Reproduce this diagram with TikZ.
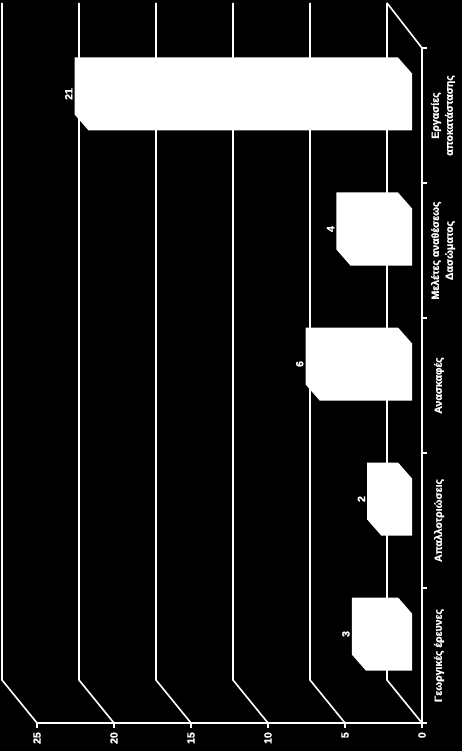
\documentclass[tikz,border=0pt]{standalone}
\usepackage{fontspec}
\setmainfont{Liberation Sans}
\newfontfamily\labfont{Liberation Sans Bold}[FakeBold=1.2]
\begin{document}
\begin{tikzpicture}[x=1pt,y=-1pt,
  grid/.style={white,line width=1.6pt},
  barshape/.style={fill=white},
  txt/.style={rotate=90,text=white,inner sep=0pt,font=\labfont\fontsize{10.5}{14}\selectfont},
  catlab/.style={txt,align=center}]
\fill[black] (0,0) rectangle (462,751);
\useasboundingbox (0,0) rectangle (462,751);
% back wall gridlines, side wall diagonals, value ticks and labels
\foreach \v in {0,5,...,25} {
  \pgfmathsetmacro\xb{387-\v*15.4}
  \coordinate (gb\v) at (\xb,3);
  \coordinate (gc\v) at (\xb,680);
  \coordinate (gf\v) at (\xb+35,723);
  \coordinate (gt\v) at (\xb+35,728);
  \draw[grid] (gb\v) -- (gc\v) -- (gf\v);
  \draw[grid] (gf\v) -- (gt\v);
  \node[txt,anchor=east] (vl\v) at (\xb+35,732) {\v};
}
% floor edge and axes
\coordinate (fe) at (422,48);
\coordinate (ax0) at (422,723);
\coordinate (ax25) at (37,723);
\draw[grid] (gb0) -- (fe) -- (ax0) -- (ax25);
\foreach \y in {48,183,...,723} {
  \coordinate (ct\y) at (422,\y);
  \coordinate (cu\y) at (427,\y);
  \draw[grid] (ct\y) -- (cu\y);
}
% bars
\foreach \yc/\v in {655.5/3, 520.5/2, 385.5/6, 250.5/4, 115.5/21} {
  \pgfmathsetmacro\xl{412-\v*15.4}
  \fill[barshape] (\xl-14,\yc-58) -- (398,\yc-58) -- (412,\yc-42) -- (412,\yc+15)
     -- (\xl,\yc+15) -- (\xl-14,\yc-1) -- cycle;
  \node[txt,anchor=south] (bl\v) at (\xl-16,\yc-21.5) {\v};
}
% category labels
\node[catlab] (c1) at (439,655.5) {Γεωργικές έρευνες};
\node[catlab] (c2) at (439,520.5) {Απαλλοτριώσεις};
\node[catlab] (c3) at (439,385.5) {Ανασκαφές};
\node[catlab] (c4) at (443,250.5) {Μελέτες αναθέσεως\\Δασώματος};
\node[catlab] (c5) at (443,115.5) {Εργασίες\\αποκατάστασης};
\end{tikzpicture}
\end{document}
